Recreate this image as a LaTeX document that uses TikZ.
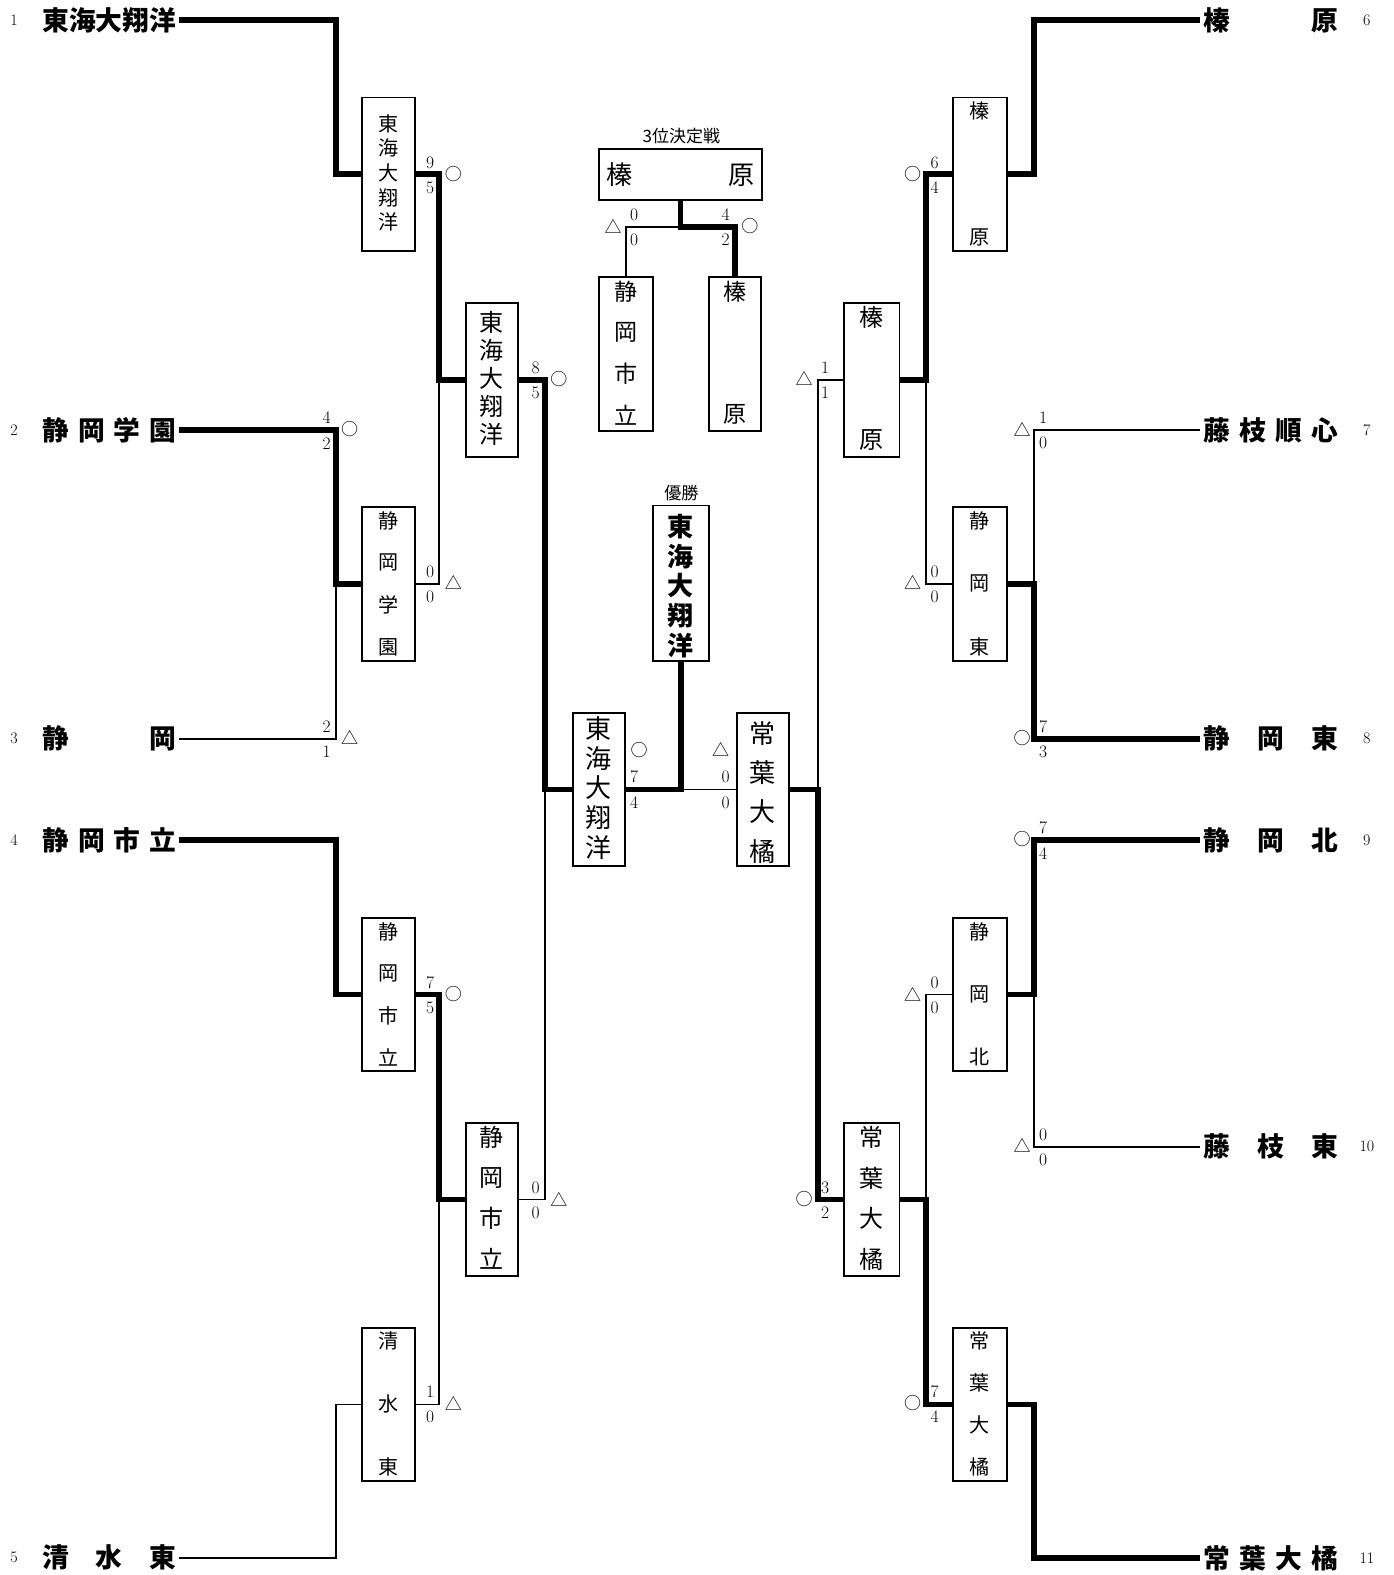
\documentclass[tikz,border=0pt]{standalone}
\usepackage{fontspec}
\newfontfamily\jp{Noto Sans CJK JP}
\usetikzlibrary{calc}
\tikzset{
  x=1bp,y=-1bp,
  win/.style={line width=5.8bp,line join=miter},
  lose/.style={line width=1.7bp,line join=miter},
  box/.style={draw,line width=1.9bp,inner sep=0pt,minimum width=52bp,minimum height=153bp},
  tname/.style={inner sep=0pt,font=\jp\bfseries\fontsize{26.7}{28}\selectfont,anchor=west},
  idx/.style={inner sep=0pt,font=\fontsize{16}{17}\selectfont},
  dig/.style={inner sep=0pt,font=\fontsize{17.5}{18}\selectfont},
  sym/.style={inner sep=0pt,font=\jp\fontsize{17}{18}\selectfont},
  hdr/.style={inner sep=0pt,font=\jp\fontsize{17}{18}\selectfont},
}
% vertical text: #1 prefix, #2 cx, #3 first y, #4 step, #5 font size, #6 list
\newcommand\vtxt[6]{%
  \foreach \ch [count=\i] in {#6}{%
    \node[inner sep=0pt,font=\jp\fontsize{#5}{#5}\selectfont] (#1-\i) at (#2,{#3+(\i-1)*#4}) {\ch};}}
% score: #1 prefix, #2 digit x, #3 line y, #4 top, #5 bottom, #6 sym x, #7 sym
\newcommand\score[7]{%
  \node[dig] (#1-t) at (#2,#3-12) {#4};
  \node[dig] (#1-b) at (#2,#3+13) {#5};
  \node[sym] (#1-s) at (#6,#3-1) {#7};}
\begin{document}
\begin{tikzpicture}
\useasboundingbox (0,0) rectangle (1387,1567.1);
% ---------- team names ----------
\node[idx] (n1) at (14,20) {1};
\node[idx] (n2) at (14,428) {2};
\node[idx] (n3) at (14,735) {3};
\node[idx] (n4) at (14,836) {4};
\node[idx] (n5) at (14,1550) {5};
\node[idx] (n6) at (1360,20) {6};
\node[idx] (n7) at (1360,428) {7};
\node[idx] (n8) at (1360,735) {8};
\node[idx] (n9) at (1360,836) {9};
\node[idx] (n10) at (1360,1141) {10};
\node[idx] (n11) at (1360,1550) {11};
\node[tname] (T1) at (42,20) {\makebox[133bp][s]{東\hfill 海\hfill 大\hfill 翔\hfill 洋}};
\node[tname] (T2) at (42,428) {\makebox[133bp][s]{静\hfill 岡\hfill 学\hfill 園}};
\node[tname] (T3) at (42,735) {\makebox[133bp][s]{静\hfill 岡}};
\node[tname] (T4) at (42,836) {\makebox[133bp][s]{静\hfill 岡\hfill 市\hfill 立}};
\node[tname] (T5) at (42,1550) {\makebox[133bp][s]{清\hfill 水\hfill 東}};
\node[tname] (T6) at (1197,20) {\makebox[134bp][s]{榛\hfill 原}};
\node[tname] (T7) at (1197,428) {\makebox[134bp][s]{藤\hfill 枝\hfill 順\hfill 心}};
\node[tname] (T8) at (1197,735) {\makebox[134bp][s]{静\hfill 岡\hfill 東}};
\node[tname] (T9) at (1197,836) {\makebox[134bp][s]{静\hfill 岡\hfill 北}};
\node[tname] (T10) at (1197,1141) {\makebox[134bp][s]{藤\hfill 枝\hfill 東}};
\node[tname] (T11) at (1197,1550) {\makebox[134bp][s]{常\hfill 葉\hfill 大\hfill 橘}};
\coordinate (t1) at (178,20);
\coordinate (t2) at (178,428);
\coordinate (t3) at (178,735);
\coordinate (t4) at (178,836);
\coordinate (t5) at (178,1550);
\coordinate (t6) at (1194,20);
\coordinate (t7) at (1194,428);
\coordinate (t8) at (1194,735);
\coordinate (t9) at (1194,836);
\coordinate (t10) at (1194,1141);
\coordinate (t11) at (1194,1550);
% ---------- boxes ----------
\node[box] (A) at (386.5,173.5) {};
\node[box] (B) at (386.5,581) {};
\node[box] (C) at (386.5,989.5) {};
\node[box] (D) at (386.5,1397.5) {};
\node[box] (E) at (489.5,378) {};
\node[box] (F) at (489.5,1193.5) {};
\node[box] (G) at (596,785.5) {};
\node[box] (H) at (759,785.5) {};
\node[box,minimum width=55bp,minimum height=155bp] (W) at (677.5,580.5) {};
\node[box,minimum width=55bp] (I) at (867.5,378) {};
\node[box,minimum width=55bp] (J) at (867.5,1193.5) {};
\node[box,minimum width=54bp] (K) at (975,173.5) {};
\node[box,minimum width=54bp] (L) at (975,581) {};
\node[box,minimum width=54bp] (M) at (975,989.5) {};
\node[box,minimum width=54bp] (N) at (975,1397.5) {};
\node[box,minimum width=162bp,minimum height=51bp,font=\jp\fontsize{26}{26}\selectfont] (P) at (677,173.5) {\makebox[148bp][s]{榛\hfill 原}};
\node[box,minimum width=54bp] (Q) at (623,352.5) {};
\node[box,minimum width=52bp] (R) at (731,352.5) {};
% ---------- box texts ----------
\vtxt{a}{386.5}{123}{24.5}{20}{東,海,大,翔,洋}
\vtxt{b}{386.5}{518}{42}{20}{静,岡,学,園}
\vtxt{c}{386.5}{927}{41.7}{20}{静,岡,市,立}
\vtxt{d}{386.5}{1334}{63}{20}{清,水,東}
\vtxt{e}{489.5}{321}{27.8}{24}{東,海,大,翔,洋}
\vtxt{f}{489.5}{1132}{40.3}{24}{静,岡,市,立}
\vtxt{g}{596}{725}{29.5}{26}{東,海,大,翔,洋}
\vtxt{h}{759}{730}{39}{26}{常,葉,大,橘}
\foreach \ch [count=\i] in {東,海,大,翔,洋}{%
  \node[inner sep=0pt,font=\jp\bfseries\fontsize{26}{26}\selectfont] (w-\i) at (677.5,{524+(\i-1)*29.5}) {\ch};}
\vtxt{i}{867.5}{316}{122}{24}{榛,原}
\vtxt{j}{867.5}{1132}{40.3}{24}{常,葉,大,橘}
\vtxt{k}{975}{110}{126}{20}{榛,原}
\vtxt{l}{975}{518}{63}{20}{静,岡,東}
\vtxt{m}{975}{927}{62.5}{20}{静,岡,北}
\vtxt{n}{975}{1334}{42}{20}{常,葉,大,橘}
\vtxt{q}{623}{290}{41}{23}{静,岡,市,立}
\vtxt{r}{731}{290}{122}{23}{榛,原}
\node[hdr] (H3) at (678,135) {3位決定戦};
\node[hdr] (HW) at (678,491) {優勝};
% ---------- connectors: left ----------
\draw[win] (t1) -- (334,20) |- (A.west);
\draw[win] (t2) -- (334,428) |- (B.west);
\draw[lose] (t3) -- (334,735) -- (334,581);
\draw[win] (t4) -- (334,836) |- (C.west);
\draw[lose] (t5) -- (334,1550) |- (D.west);
\draw[win] (A.east) -- (437,173.5) |- (E.west);
\draw[lose] (B.east) -- (437,581) -- (437,378);
\draw[win] (C.east) -- (437,989.5) |- (F.west);
\draw[lose] (D.east) -- (437,1397.5) -- (437,1193.5);
\draw[win] (E.east) -- (542,378) |- (G.west);
\draw[lose] (F.east) -- (542,1193.5) -- (542,785.5);
\draw[win] (G.east) -| (W.south);
\draw[lose] (H.west) -- (677.5,785.5);
% ---------- connectors: right ----------
\draw[win] (H.east) -- (814,785.5) |- (J.west);
\draw[lose] (814,785.5) |- (I.west);
\draw[win] (I.east) -- (921,378) |- (K.west);
\draw[lose] (921,378) |- (L.west);
\draw[win] (J.east) -- (921,1193.5) |- (N.west);
\draw[lose] (921,1193.5) |- (M.west);
\draw[win] (K.east) -- (1029,173.5) |- (t6);
\draw[win] (L.east) -- (1029,581) |- (t8);
\draw[lose] (1029,581) |- (t7);
\draw[win] (M.east) -- (1029,989.5) |- (t9);
\draw[lose] (1029,989.5) |- (t10);
\draw[win] (N.east) -- (1029,1397.5) |- (t11);
% ---------- third place ----------
\draw[win] (P.south) -- (677,226) -| (R.north);
\draw[lose] (677,226) -| (Q.north);
% ---------- scores ----------
\score{s1}{325}{428}{4}{2}{348}{○}
\score{s2}{325}{735}{2}{1}{348}{△}
\score{s3}{428}{174}{9}{5}{451}{○}
\score{s4}{428}{581}{0}{0}{451}{△}
\score{s5}{428}{990}{7}{5}{451}{○}
\score{s6}{428}{1397}{1}{0}{451}{△}
\score{s7}{533}{378}{8}{5}{556}{○}
\score{s8}{533}{1194}{0}{0}{556}{△}
\node[dig] (g7) at (631,773) {7};
\node[dig] (g4) at (631,799) {4};
\node[sym] (gs) at (636,746) {○};
\node[dig] (h0a) at (722,773) {0};
\node[dig] (h0b) at (722,799) {0};
\node[sym] (hs) at (717,746) {△};
\score{s9}{821}{378}{1}{1}{800}{△}
\score{s10}{821}{1194}{3}{2}{800}{○}
\score{s11}{930}{174}{6}{4}{908}{○}
\score{s12}{930}{581}{0}{0}{908}{△}
\score{s13}{930}{990}{0}{0}{908}{△}
\score{s14}{930}{1397}{7}{4}{908}{○}
\score{s15}{1038}{428}{1}{0}{1017}{△}
\score{s16}{1038}{735}{7}{3}{1017}{○}
\score{s17}{1038}{836}{7}{4}{1017}{○}
\score{s18}{1038}{1141}{0}{0}{1017}{△}
\score{s19}{631}{226}{0}{0}{610}{△}
\score{s20}{722}{226}{4}{2}{746}{○}
\end{tikzpicture}
\end{document}
